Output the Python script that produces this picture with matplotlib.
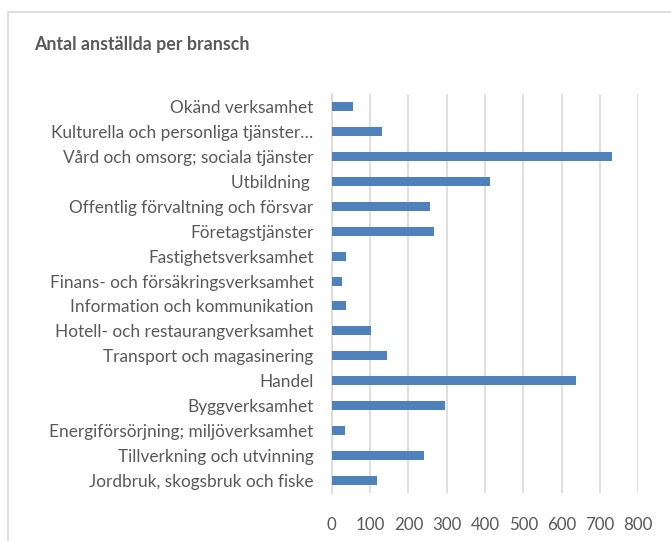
import matplotlib.pyplot as plt
from matplotlib.patches import Rectangle

# categories listed bottom to top
categories = [
    "Jordbruk, skogsbruk och fiske",
    "Tillverkning och utvinning",
    "Energiförsörjning; miljöverksamhet",
    "Byggverksamhet",
    "Handel",
    "Transport och magasinering",
    "Hotell- och restaurangverksamhet",
    "Information och kommunikation",
    "Finans- och försäkringsverksamhet",
    "Fastighetsverksamhet",
    "Företagstjänster",
    "Offentlig förvaltning och försvar",
    "Utbildning ",
    "Vård och omsorg; sociala tjänster",
    "Kulturella och personliga tjänster…",
    "Okänd verksamhet",
]
values = [119, 240, 36, 296, 637, 143, 102, 37, 26, 38, 267, 256, 413, 731, 130, 56]
xticks = [0, 100, 200, 300, 400, 500, 600, 700, 800]

TEXT = "#595959"
BAR = "#4f81bd"

plt.rcParams["font.family"] = ["Lato", "DejaVu Sans"]

fig = plt.figure(figsize=(6.71, 5.41), dpi=100)
# chart area frame, as in the spreadsheet export
fig.patches.append(Rectangle((8 / 671, -0.1), 1.0, 1 - 11.5 / 541 + 0.1,
                             transform=fig.transFigure, fill=False,
                             edgecolor="#d9d9d9", linewidth=1.2))

ax = fig.add_axes([331.7 / 671, 1 - 493 / 541, 306.6 / 671, 399 / 541])
ax.barh(range(len(categories)), values, height=0.36, color=BAR, zorder=3)
ax.set_ylim(-0.5, len(categories) - 0.5)
ax.set_xlim(0, 800)
ax.set_xticks(xticks)
ax.set_yticks(range(len(categories)))
ax.set_yticklabels(categories)
ax.tick_params(axis="both", length=0, colors=TEXT)
ax.tick_params(axis="y", pad=13, labelsize=12.4)
ax.tick_params(axis="x", pad=17, labelsize=12.2)
ax.grid(axis="x", color="#d9d9d9", linewidth=1.2, zorder=0)
for side in ["top", "right", "bottom"]:
    ax.spines[side].set_visible(False)
ax.spines["left"].set_color("#d9d9d9")
ax.spines["left"].set_linewidth(1.2)

fig.text(34 / 671, 1 - 45 / 541, "Antal anställda per bransch", fontsize=12.8,
         fontweight="bold", color=TEXT, va="center", ha="left")

fig.savefig("out.png", dpi=100)
